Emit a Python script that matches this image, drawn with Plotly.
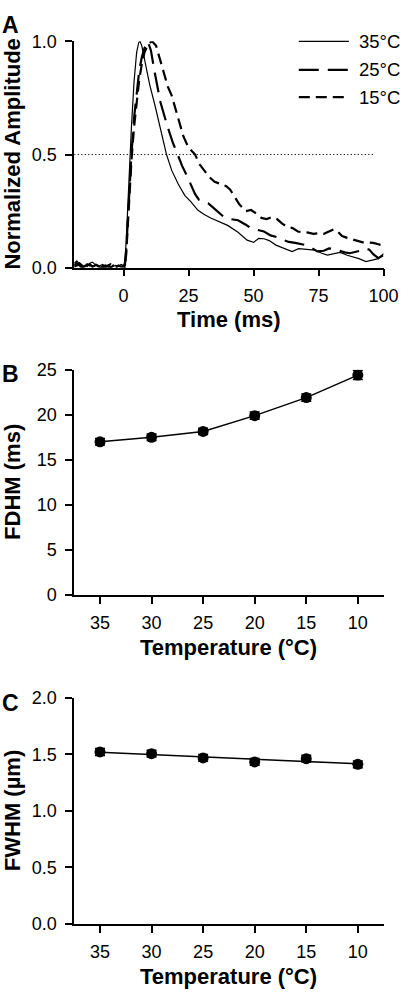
import plotly.graph_objects as go

# ---------------- Panel A data (normalized transients) ----------------
t_35 = [-19, -18, -17, -16, -15, -14, -13, -12, -11, -10, -9, -8, -7, -6, -5, -4, -3, -2, -1, 0,
        0.5, 1, 2, 3, 4, 5, 5.8, 6.3, 7, 8, 10, 12, 14, 16.5, 18.5, 21, 23.5, 26, 28.5, 31, 33.5,
        36.5, 40, 44, 47.5, 50, 52, 54, 56, 58.6, 61, 63, 64.8, 67.3, 70, 73.5, 76, 78.4, 81, 83.3,
        86, 88.3, 90.5, 93.2, 95.5, 97.6, 100]
amp_35 = [0.02, 0.03, 0.015, 0.005, 0.01, 0.005, 0.02, 0.025, 0.015, 0.005, 0.01, 0.015, 0.005, 0.01, 0.003, 0.008, 0.01, 0.005, 0.015, 0.01,
          0.03, 0.12, 0.38, 0.62, 0.82, 0.95, 0.995, 1.0, 0.98, 0.92, 0.81, 0.72, 0.62, 0.5, 0.43, 0.37, 0.32, 0.29, 0.255, 0.235, 0.22,
          0.205, 0.187, 0.157, 0.122, 0.112, 0.13, 0.128, 0.12, 0.1, 0.09, 0.08, 0.071, 0.084, 0.08, 0.078, 0.065, 0.056, 0.062, 0.068,
          0.055, 0.049, 0.04, 0.027, 0.033, 0.039, 0.062]

t_25 = [-19, -18, -17, -16, -15, -14, -13, -12, -11, -10, -9, -8, -7, -6, -5, -4, -3, -2, -1, 0,
        0.5, 1, 2, 3, 4, 5, 6, 7, 8, 9.3, 10.5, 12, 14.2, 16.7, 19, 20.8, 22.5, 24.2, 26, 27.5, 29,
        31, 32.5, 35, 38.5, 41, 44, 47, 49, 51.5, 54, 56.5, 59, 61, 63.5, 66, 68, 70, 72, 74.5, 77,
        79, 81, 83, 85, 87, 89, 91, 93, 94.5, 96, 98, 100]
amp_25 = [0.01, 0.02, 0.01, 0.0, 0.005, 0.015, 0.01, 0.005, 0.02, 0.01, 0.0, 0.005, 0.01, 0.005, 0.0, 0.01, 0.005, 0.0, 0.005, 0.01,
          0.01, 0.08, 0.3, 0.5, 0.66, 0.78, 0.87, 0.93, 0.97, 1.0, 0.96, 0.86, 0.73, 0.63, 0.55, 0.5, 0.45, 0.41, 0.36, 0.325, 0.3,
          0.29, 0.285, 0.26, 0.225, 0.215, 0.21, 0.19, 0.175, 0.167, 0.16, 0.143, 0.135, 0.125, 0.114, 0.11, 0.105, 0.1, 0.09, 0.072, 0.075,
          0.085, 0.083, 0.075, 0.068, 0.064, 0.068, 0.075, 0.085, 0.08, 0.06, 0.042, 0.056]

t_15 = [-19, -18, -17, -16, -15, -14, -13, -12, -11, -10, -9, -8, -7, -6, -5, -4, -3, -2, -1, 0,
        0.5, 1, 2, 3, 4, 5, 6, 7, 8, 9.5, 11, 12.5, 14, 15.5, 17, 18.5, 20, 21.5, 23, 25, 27.5, 29,
        31, 33, 35, 37.5, 39.5, 41, 42.5, 44.5, 47, 49, 51, 53, 55, 57, 59, 61, 63, 65, 67, 69, 71,
        73, 75, 77, 79, 81, 82.5, 84, 86, 88, 90, 92, 94, 96, 98, 100]
amp_15 = [0.005, 0.01, 0.02, 0.01, 0.0, 0.01, 0.015, 0.005, 0.01, 0.02, 0.01, 0.005, 0.0, 0.01, 0.015, 0.005, 0.0, 0.01, 0.005, 0.005,
          0.0, 0.06, 0.27, 0.47, 0.62, 0.74, 0.83, 0.9, 0.95, 0.99, 1.0, 0.98, 0.92, 0.85, 0.8, 0.76, 0.7, 0.63, 0.58, 0.53, 0.5, 0.46,
          0.43, 0.4, 0.38, 0.367, 0.36, 0.345, 0.315, 0.28, 0.25, 0.255, 0.24, 0.22, 0.215, 0.224, 0.215, 0.195, 0.18, 0.175, 0.16, 0.158, 0.155,
          0.15, 0.152, 0.15, 0.16, 0.17, 0.158, 0.14, 0.132, 0.125, 0.12, 0.112, 0.112, 0.11, 0.104, 0.097]

half_max_t = [-19, 96]
half_max_y = [0.5, 0.5]

time_ticks = [0, 25, 50, 75, 100]
legend_labels = ["35°C", "25°C", "15°C"]

# ---------------- Panels B & C data ----------------
temperature = [35, 30, 25, 20, 15, 10]
fdhm = [17.0, 17.5, 18.15, 19.9, 21.9, 24.4]
fdhm_err = [0.35, 0.35, 0.35, 0.4, 0.4, 0.5]
fwhm = [1.52, 1.505, 1.467, 1.432, 1.461, 1.411]
fwhm_err = [0.03, 0.03, 0.03, 0.03, 0.03, 0.03]

# linear fit for FWHM
n = len(temperature)
mx = sum(temperature) / n
my = sum(fwhm) / n
slope = sum((x - mx) * (y - my) for x, y in zip(temperature, fwhm)) / sum((x - mx) ** 2 for x in temperature)
fit_x = [temperature[0], temperature[-1]]
fit_y = [my + slope * (x - mx) for x in fit_x]

W, H = 415, 999
FONT = "Arial, 'Liberation Sans', Helvetica, sans-serif"


def px(x):
    return x / W


def py(y):
    return 1 - y / H


fig = go.Figure()

# Panel A traces
fig.add_trace(go.Scatter(x=half_max_t, y=half_max_y, mode="lines",
                         line=dict(color="black", width=1, dash="1.2px,2.3px"),
                         xaxis="x", yaxis="y", showlegend=False, hoverinfo="skip"))
fig.add_trace(go.Scatter(x=t_15, y=amp_15, mode="lines", line=dict(color="black", width=2.2, dash="11px,6px"),
                         xaxis="x", yaxis="y", showlegend=False))
fig.add_trace(go.Scatter(x=t_25, y=amp_25, mode="lines", line=dict(color="black", width=2.2, dash="20px,9px"),
                         xaxis="x", yaxis="y", showlegend=False))
fig.add_trace(go.Scatter(x=t_35, y=amp_35, mode="lines", line=dict(color="black", width=1.2),
                         xaxis="x", yaxis="y", showlegend=False))

# Panel B
fig.add_trace(go.Scatter(x=temperature, y=fdhm, mode="lines+markers",
                         line=dict(color="black", width=1.5),
                         marker=dict(color="black", size=11),
                         error_y=dict(type="data", array=fdhm_err, color="black", thickness=1.5, width=5),
                         xaxis="x2", yaxis="y2", showlegend=False))

# Panel C
fig.add_trace(go.Scatter(x=fit_x, y=fit_y, mode="lines", line=dict(color="black", width=1.5),
                         xaxis="x3", yaxis="y3", showlegend=False, hoverinfo="skip"))
fig.add_trace(go.Scatter(x=temperature, y=fwhm, mode="markers",
                         marker=dict(color="black", size=11),
                         error_y=dict(type="data", array=fwhm_err, color="black", thickness=1.5, width=5),
                         xaxis="x3", yaxis="y3", showlegend=False))

xdom = [px(77), px(398)]
axis_common = dict(showline=True, linewidth=1.5, linecolor="black", ticks="outside", ticklen=7,
                   tickwidth=1.5, tickcolor="black", showgrid=False, zeroline=False,
                   tickfont=dict(size=18, color="black", family=FONT))
xa = dict(ticklabelstandoff=4, **axis_common)
ya = dict(ticklabelstandoff=5, **axis_common)

fig.update_layout(
    width=W, height=H, autosize=False,
    margin=dict(l=0, r=0, t=0, b=0),
    paper_bgcolor="white", plot_bgcolor="white",
    font=dict(family=FONT, color="black"),
    xaxis=dict(domain=xdom, range=[-19, 100], tickvals=time_ticks, anchor="y", **xa),
    yaxis=dict(domain=[py(263), py(32)], range=[0, 1], tickvals=[0, 0.5, 1.0], tickformat=".1f",
               anchor="x", **ya),
    xaxis2=dict(domain=xdom, range=[37.5, 7.5], tickvals=temperature, anchor="y2", **xa),
    yaxis2=dict(domain=[py(597), py(367)], range=[0, 25], tickvals=[0, 5, 10, 15, 20, 25], anchor="x2", **ya),
    xaxis3=dict(domain=xdom, range=[37.5, 7.5], tickvals=temperature, anchor="y3", **xa),
    yaxis3=dict(domain=[py(932.7), py(701.7)], range=[0, 2], tickvals=[0, 0.5, 1.0, 1.5, 2.0], tickformat=".1f",
                anchor="x3", **ya),
)

ann = []


def add_text(text, x, y, size, bold=False, angle=0, xanchor="center"):
    ann.append(dict(text=("<b>%s</b>" % text) if bold else text, x=px(x), y=py(y), xref="paper", yref="paper",
                    showarrow=False, textangle=angle, xanchor=xanchor, yanchor="middle",
                    font=dict(size=size, family=FONT, color="black")))


# panel letters
add_text("A", 11, 15, 23, bold=True)
add_text("B", 11, 371, 23, bold=True)
add_text("C", 11, 707, 23, bold=True)
# axis titles
add_text("Normalized Amplitude", 13, 147, 22, bold=True, angle=-90)
add_text("FDHM (ms)", 13, 482, 22, bold=True, angle=-90)
add_text("FWHM (µm)", 13, 817, 22, bold=True, angle=-90)
add_text("Time (ms)", 237.5, 316, 22, bold=True)
add_text("Temperature (°C)", 237.5, 651, 22, bold=True)
add_text("Temperature (°C)", 237.5, 986, 22, bold=True)

# legend (panel A)
legend_rows = [32, 61, 89]
legend_dash = ["solid", "20px,9px", "11px,6px"]
legend_width = [1.2, 2.2, 2.2]
shapes = []
for lab, yy, dsh, lw in zip(legend_labels, legend_rows, legend_dash, legend_width):
    shapes.append(dict(type="line", xref="paper", yref="paper", x0=px(310), x1=px(362), y0=py(yy), y1=py(yy),
                       line=dict(color="black", width=lw, dash=dsh)))
    add_text(lab, 370, yy, 18.5, xanchor="left")

fig.update_layout(annotations=ann, shapes=shapes)

fig.write_html("out.html", config={"displayModeBar": False},
               post_script="document.body.style.margin='0';document.body.style.overflow='hidden';")
